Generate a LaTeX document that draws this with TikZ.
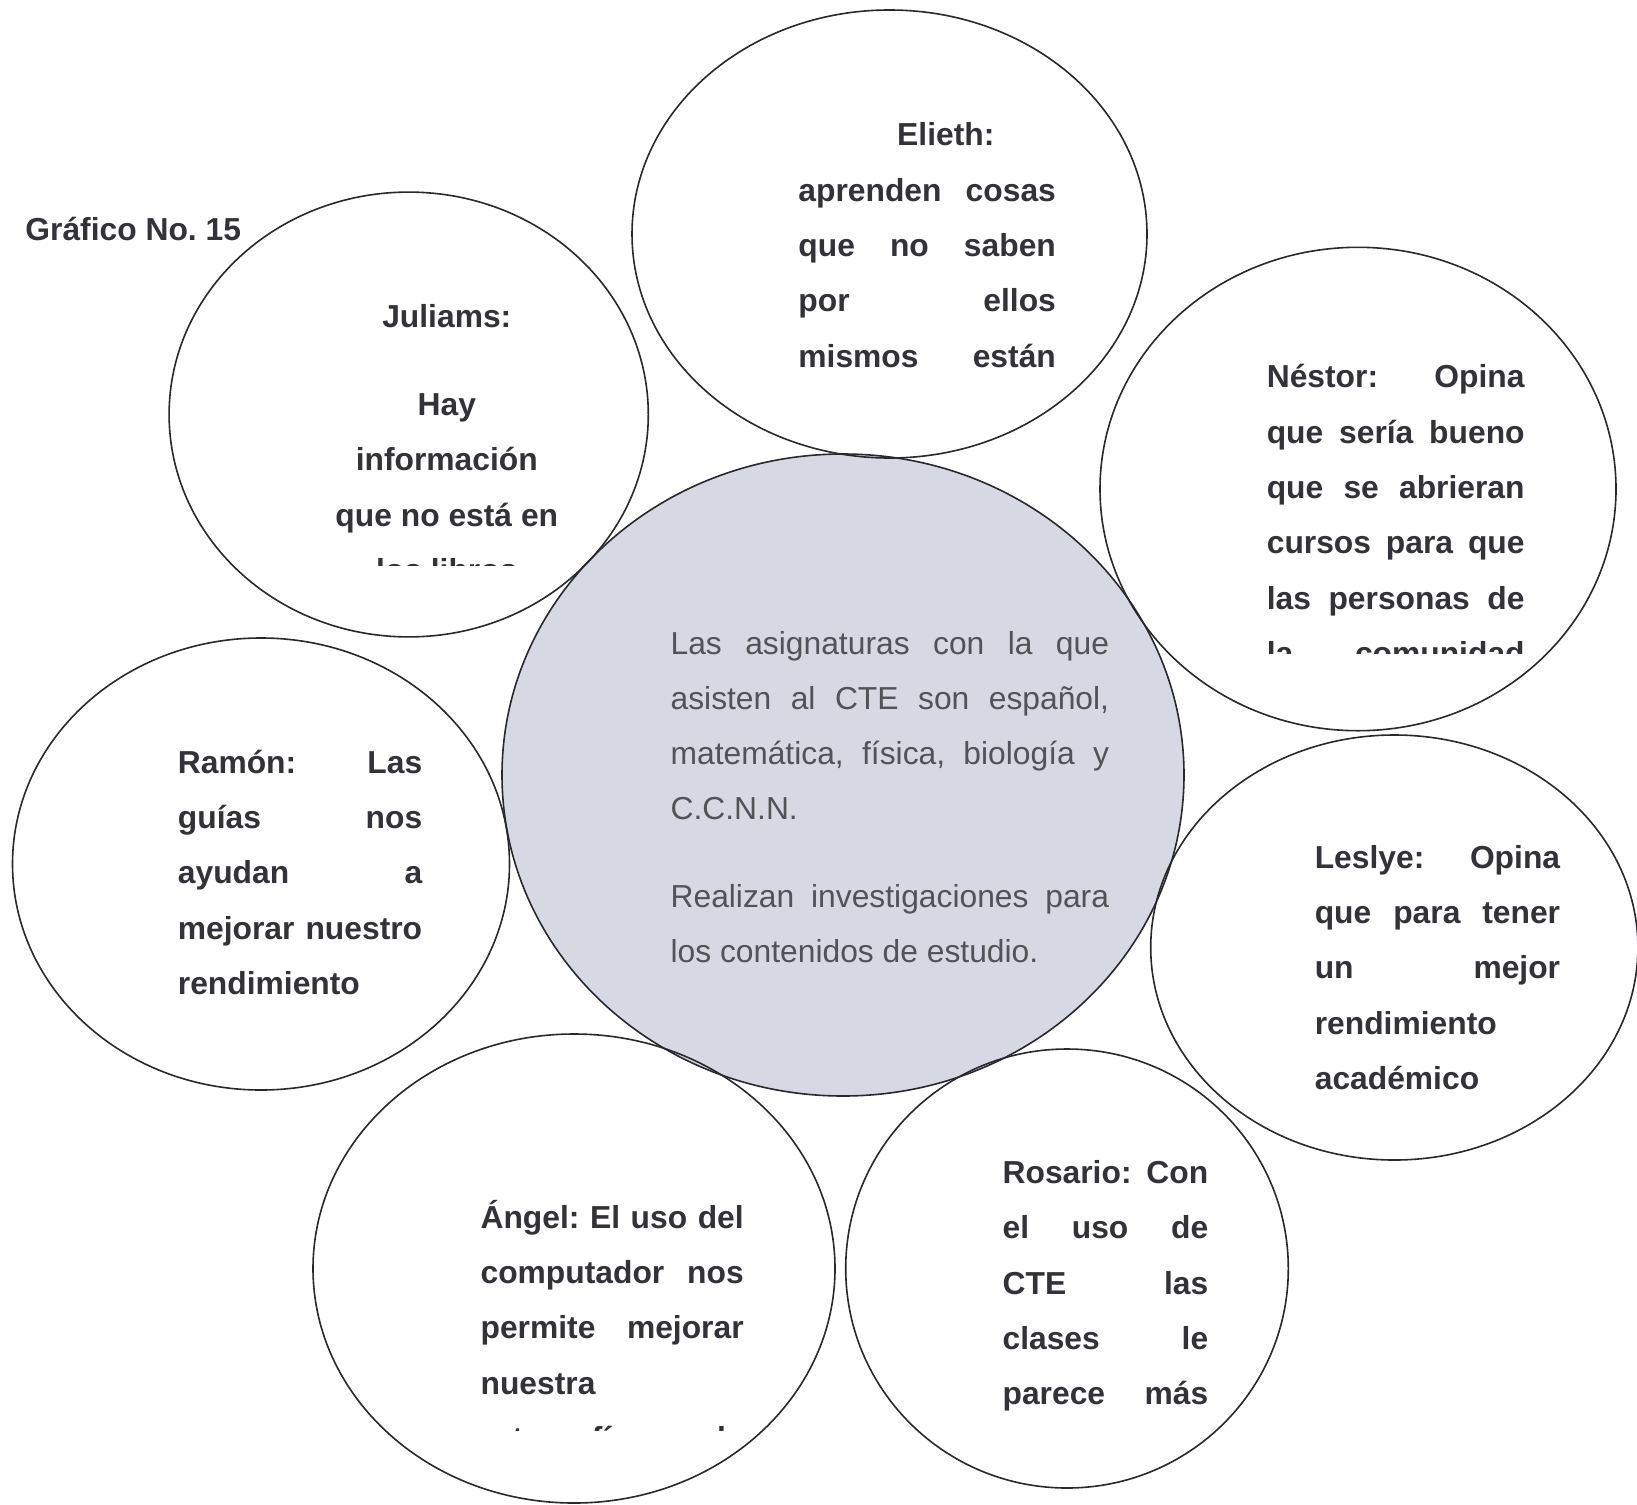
\documentclass[tikz,border=0pt]{standalone}
\usepackage{fontspec}
\setmainfont{Liberation Sans}
\usepackage{xcolor}
\usetikzlibrary{shapes.geometric}
\frenchspacing

\definecolor{bubblegray}{RGB}{214,217,227}
\definecolor{linegray}{RGB}{40,40,45}
\definecolor{textdark}{RGB}{50,50,56}
\definecolor{textgray}{RGB}{82,82,88}

% one justified row of a text block
\newcommand{\jrow}[1]{\makebox[\linewidth][s]{#1}}

\tikzset{
  bubble/.style={draw=linegray, line width=0.8pt, ellipse, inner sep=0pt},
  voice/.style={anchor=base west, inner sep=0pt, text=textdark,
    font=\bfseries\fontsize{15.9pt}{27.65pt}\selectfont},
  summary/.style={voice, text=textgray, font=\fontsize{15.9pt}{27.65pt}\selectfont}
}

\begin{document}
\begin{tikzpicture}[x=0.5pt, y=-0.5pt]
    \useasboundingbox (0,0) rectangle (1637,1504);
    \clip (0,0) rectangle (1637,1504);

    % bubbles
    \node (centro) [bubble, fill=bubblegray, minimum width=341pt, minimum height=321pt] at (843,775) {};
    \node (elieth) [bubble, minimum width=257.5pt, minimum height=224pt] at (889.5,234) {};
    \node (juliams) [bubble, minimum width=239.6pt, minimum height=222.4pt] at (408.7,414.5) {};
    \node (nestor) [bubble, minimum width=258pt, minimum height=241.7pt] at (1358,489) {};
    \node (ramon) [bubble, minimum width=248.5pt, minimum height=226pt] at (261,864) {};
    \node (leslye) [bubble, minimum width=243.6pt, minimum height=212.5pt] at (1394.3,947.5) {};
    \node (angel) [bubble, minimum width=261pt, minimum height=234.5pt] at (574,1268.5) {};
    \node (rosario) [bubble, minimum width=221.3pt, minimum height=219.5pt] at (1067,1268.5) {};

    \node (titulo) [voice] at (25,240) {Gráfico No. 15};

    % texts
    \node (centro-txt) [summary] at (670.2,654) {\parbox[t]{219.25pt}{%
        \jrow{Las asignaturas con la que}\\
        \jrow{asisten al CTE son español,}\\
        \jrow{matemática, física, biología y}\\
        C.C.N.N.\\[16.2pt]
        \jrow{Realizan investigaciones para}\\
        los contenidos de estudio.}};

    \node (elieth-txt) [voice] at (798,146) {\parbox[t]{128.75pt}{%
        \hspace*{49.4pt}Elieth:\\
        \jrow{aprenden cosas}\\
        \jrow{que no saben}\\
        \jrow{por ellos}\\
        \jrow{mismos están}}};

    \begin{scope}
        \clip (150,250) rectangle (700,565.5);
        \node (juliams-txt) [voice, anchor=base] at (446.8,327.7) {\parbox[t]{130pt}{\centering
            Juliams:\\[16.2pt]
            Hay\\
            información\\
            que no está en\\
            los libros}};
    \end{scope}

    \begin{scope}
        \clip (1200,330) rectangle (1600,653);
        \node (nestor-txt) [voice] at (1266.4,387.9) {\parbox[t]{128.9pt}{%
            \jrow{Néstor: Opina}\\
            \jrow{que sería bueno}\\
            \jrow{que se abrieran}\\
            \jrow{cursos para que}\\
            \jrow{las personas de}\\
            \jrow{la comunidad}}};
    \end{scope}

    \node (ramon-txt) [voice] at (177.5,773.1) {\parbox[t]{122.15pt}{%
        \jrow{Ramón: Las}\\
        \jrow{guías nos}\\
        \jrow{ayudan a}\\
        \jrow{mejorar nuestro}\\
        rendimiento}};

    \node (leslye-txt) [voice] at (1314.4,868.1) {\parbox[t]{122.65pt}{%
        \jrow{Leslye: Opina}\\
        \jrow{que para tener}\\
        \jrow{un mejor}\\
        rendimiento\\
        académico}};

    \begin{scope}
        \clip (400,1150) rectangle (800,1430);
        \node (angel-txt) [voice] at (480.2,1228.3) {\parbox[t]{131.55pt}{%
            \jrow{Ángel: El uso del}\\
            \jrow{computador nos}\\
            \jrow{permite mejorar}\\
            nuestra\\
            \jrow{ortografía y la}}};
    \end{scope}

    \node (rosario-txt) [voice] at (1002.2,1183.4) {\parbox[t]{102.85pt}{%
        \jrow{Rosario: Con}\\
        \jrow{el uso de}\\
        \jrow{CTE las}\\
        \jrow{clases le}\\
        \jrow{parece más}}};
\end{tikzpicture}
\end{document}
